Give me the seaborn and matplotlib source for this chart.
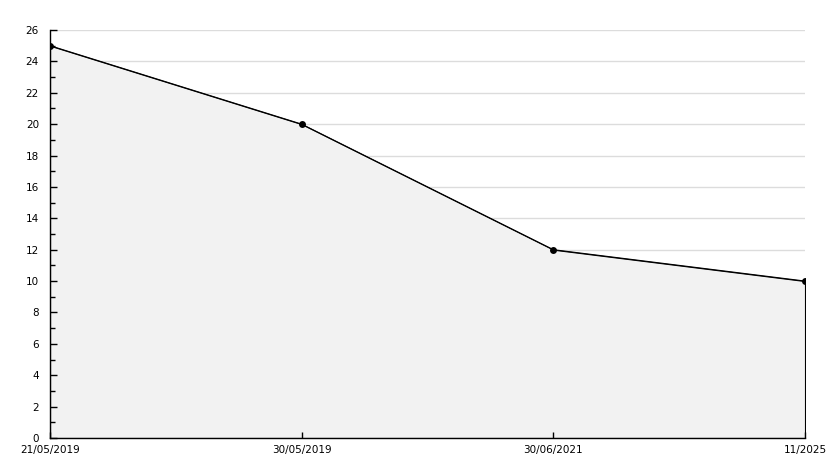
import matplotlib
matplotlib.use("Agg")
import matplotlib.pyplot as plt
import seaborn as sns
import pandas as pd
import numpy as np
from matplotlib.ticker import MultipleLocator

dates = ["21/05/2019", "30/05/2019", "30/06/2021", "11/2025"]
values = [25, 20, 12, 10]

sns.set_style("white")
plt.rcParams['font.family'] = ['DejaVu Sans']

df = pd.DataFrame({"pos": np.arange(len(dates)), "value": values})

fig = plt.figure(figsize=(8.34, 4.68), dpi=100)
ax = fig.add_axes([50/834, 30/468, 755/834, 408/468])

ax.fill_between(df["pos"], df["value"], 0, facecolor="#f2f2f2", edgecolor="black", linewidth=0.8, zorder=1)
sns.lineplot(data=df, x="pos", y="value", ax=ax, color="black", linewidth=0.8,
             marker="o", markersize=5, markeredgewidth=0, zorder=3)

ax.set_xlim(0, len(dates) - 1)
ax.set_ylim(0, 26)
ax.yaxis.set_major_locator(MultipleLocator(2))
ax.yaxis.set_minor_locator(MultipleLocator(1))
ax.set_xticks(df["pos"])
ax.set_xticklabels(dates)
ax.grid(False)
for yv in ax.get_yticks():
    if 0 < yv <= 26:
        ax.axhline(yv, color="#dcdcdc", linewidth=1, zorder=0.5)
ax.set_axisbelow(False)
ax.set_xlabel("")
ax.set_ylabel("")

for s in ["top", "right"]:
    ax.spines[s].set_visible(False)
for s in ["left", "bottom"]:
    ax.spines[s].set_color("black")
    ax.spines[s].set_linewidth(1)

ax.tick_params(axis="y", which="major", direction="in", length=5, width=1, color="black",
               labelsize=7.5, labelcolor="black", pad=8, left=True)
ax.tick_params(axis="y", which="minor", direction="in", length=3.5, width=1, color="black", left=True)
ax.tick_params(axis="x", which="major", direction="in", length=4, width=1, color="black",
               labelsize=7.5, labelcolor="black", pad=5, bottom=True)

fig.savefig("out.png", dpi=100)
